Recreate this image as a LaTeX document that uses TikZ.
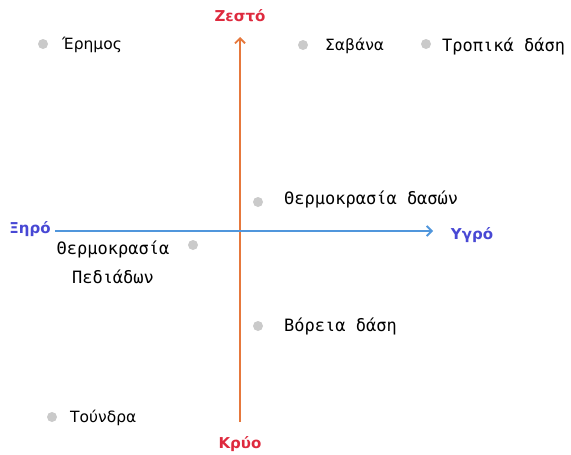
\documentclass[tikz,border=0pt]{standalone}
\usepackage{fontspec}
\setmainfont{DejaVu Sans}
\newfontfamily\biomemono{DejaVu Sans Mono}
\usetikzlibrary{arrows.meta}
\definecolor{hotred}{RGB}{222,42,62}
\definecolor{wetblue}{RGB}{72,72,212}
\definecolor{axisorange}{RGB}{230,120,60}
\definecolor{axisblue}{RGB}{80,150,220}
\definecolor{dotgray}{RGB}{202,202,202}

\begin{document}
\begin{tikzpicture}[x=1pt, y=-1pt,
    dot/.style = {circle, fill=dotgray, inner sep=0pt, minimum size=10pt},
    biome/.style = {anchor=west, inner sep=0pt, font=\fontsize{15.5}{18}\selectfont},
    biomem/.style = {anchor=west, inner sep=0pt, font=\biomemono\fontsize{17}{29}\selectfont},
    axislabel/.style = {inner sep=0pt, font=\bfseries\fontsize{15}{17}\selectfont}]
    \useasboundingbox (0,0) rectangle (571,455);
    % axes
    \coordinate (T) at (240,37);
    \coordinate (B) at (240,422);
    \coordinate (L) at (55,231);
    \coordinate (R) at (433,231);
    \draw [axisorange, line width=1.8pt, -{Straight Barb[length=5pt, width=10pt]}] (B) -- (T);
    \draw [axisblue, line width=1.8pt, -{Straight Barb[length=5pt, width=10pt]}] (L) -- (R);
    \node (hot) at (240,16) [axislabel, hotred] {Ζεστό};
    \node (cold) at (240,444) [axislabel, hotred] {Κρύο};
    \node (dry) at (30,229) [axislabel, wetblue] {Ξηρό};
    \node (wet) at (472,235) [axislabel, wetblue] {Υγρό};
    % biomes
    \node (desertdot) at (43,44) [dot] {};
    \node (desert) at (62,45) [biome] {Έρημος};
    \node (savannadot) at (303,45) [dot] {};
    \node (savanna) at (325,46) [biome] {Σαβάνα};
    \node (tropicdot) at (426,44) [dot] {};
    \node (tropic) at (442,46) [biomem] {Τροπικά δάση};
    \node (forestdot) at (258,202) [dot] {};
    \node (forest) at (284,199) [biomem] {Θερμοκρασία δασών};
    \node (plaindot) at (193,245) [dot] {};
    \node (plain) at (113,262) [biomem, anchor=center, align=center] {Θερμοκρασία\\Πεδιάδων};
    \node (borealdot) at (258,326) [dot] {};
    \node (boreal) at (284,326) [biomem] {Βόρεια δάση};
    \node (tundradot) at (52,417) [dot] {};
    \node (tundra) at (70,418) [biome] {Τούνδρα};
\end{tikzpicture}
\end{document}
